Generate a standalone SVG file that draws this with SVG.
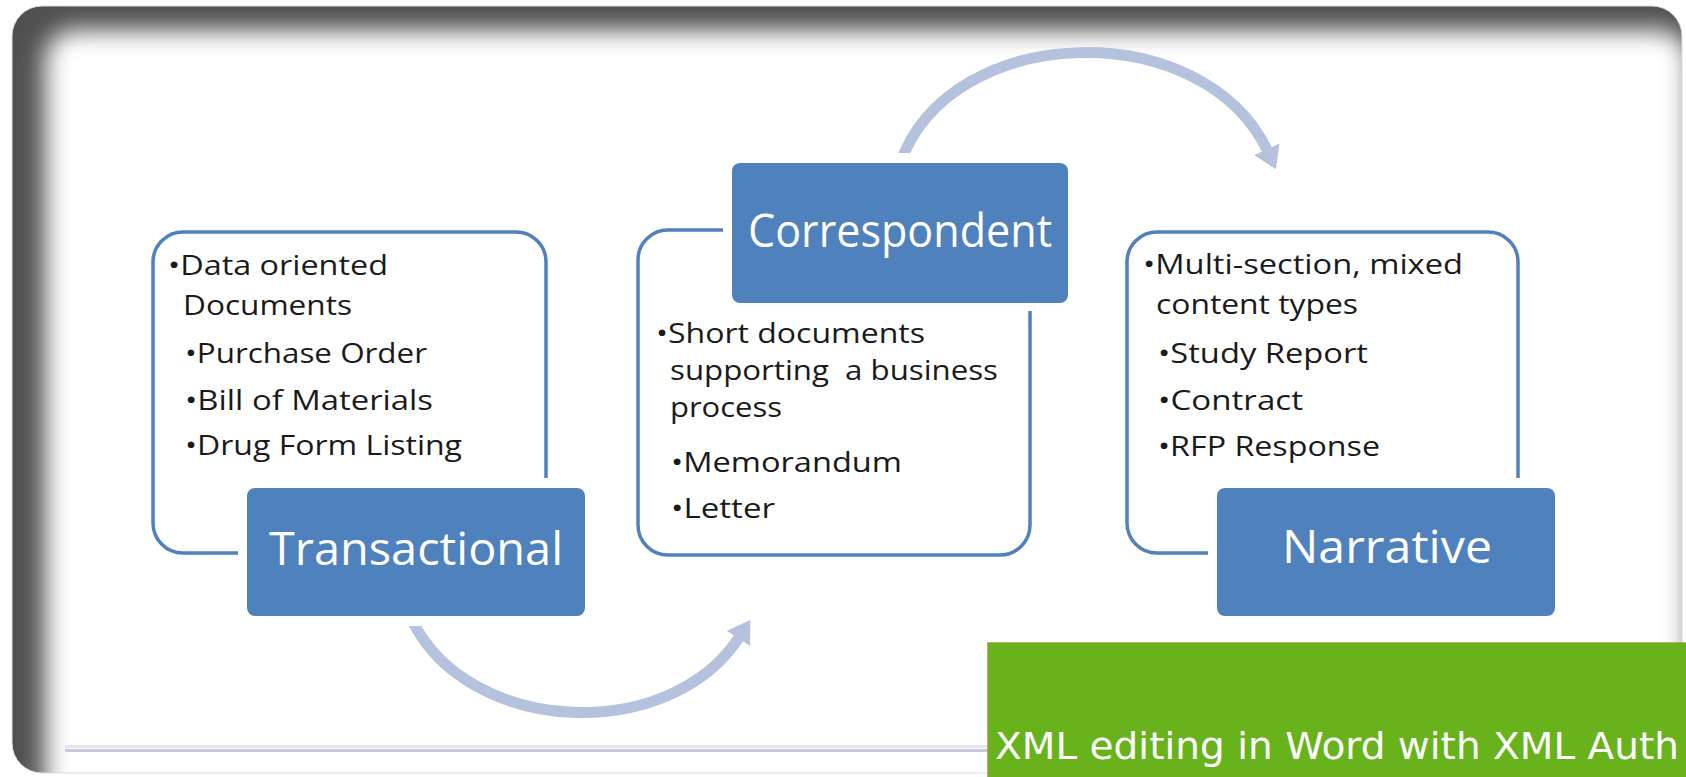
<svg xmlns="http://www.w3.org/2000/svg" width="1686" height="777" viewBox="0 0 1686 777">
  <style>
    .box { fill: #ffffff; stroke: #4f81bd; stroke-width: 3.5; }
    .gap { fill: #ffffff; }
    .label { fill: #4f81bd; }
    .lbl { font-family: "Open Sans", "Noto Sans", sans-serif; font-size: 46px; fill: #ffffff; text-anchor: middle; }
    .body { font-family: "Open Sans", "Noto Sans", sans-serif; font-size: 28px; font-weight: 500; fill: #1a1a1a; }
    .arc { fill: none; stroke: #b5c2dd; stroke-width: 11; }
    .banner { font-family: "DejaVu Sans", sans-serif; font-size: 38px; fill: #ffffff; }
  </style>
  <defs>
    <clipPath id="frameClip">
      <rect x="12" y="6" width="1670" height="767" rx="30"/>
    </clipPath>
    <filter id="soft" x="-10%" y="-10%" width="120%" height="120%">
      <feGaussianBlur stdDeviation="12"/>
    </filter>
    <marker id="head" markerUnits="userSpaceOnUse" viewBox="0 0 22 28" refX="3" refY="14" markerWidth="22" markerHeight="28" orient="auto">
      <path d="M0,0 L22,14 L0,28 Z" fill="#b5c2dd"/>
    </marker>
  </defs>

  <rect x="0" y="0" width="1686" height="777" fill="#ffffff"/>

  <!-- slide frame -->
  <g id="frame">
    <g clip-path="url(#frameClip)">
      <rect x="12" y="6" width="1670" height="767" fill="#505050"/>
      <rect x="45" y="30" width="1644" height="800" rx="30" fill="#ffffff" filter="url(#soft)"/>
    </g>
    <rect x="12" y="6" width="1670" height="767" rx="30" fill="none" stroke="#dcdcdc" stroke-width="1"/>
    <rect x="65" y="745" width="930" height="3" fill="#e3e4ef"/>
    <rect x="65" y="749" width="930" height="3" fill="#c6c8db"/>
  </g>

  <!-- connectors -->
  <g id="connectors">
    <path class="arc" d="M 900 164 C 950 20, 1205 15, 1268 152" marker-end="url(#head)"/>
    <path class="arc" d="M 413 622 C 470 735, 670 745, 740 636" marker-end="url(#head)"/>
  </g>

  <!-- Transactional -->
  <g id="transactional">
    <rect class="box" x="153" y="232" width="393" height="321" rx="30"/>
    <rect class="gap" x="238" y="478" width="356" height="148" rx="10"/>
    <rect class="label" x="247" y="488" width="338" height="128" rx="8"/>
    <text class="lbl" x="416" y="565" textLength="294" lengthAdjust="spacingAndGlyphs">Transactional</text>
    <text class="body" x="168" y="275" textLength="220" lengthAdjust="spacingAndGlyphs">•Data oriented</text>
    <text class="body" x="183" y="315" textLength="169" lengthAdjust="spacingAndGlyphs">Documents</text>
    <text class="body" x="185" y="363" textLength="242" lengthAdjust="spacingAndGlyphs">•Purchase Order</text>
    <text class="body" x="185" y="410" textLength="248" lengthAdjust="spacingAndGlyphs">•Bill of Materials</text>
    <text class="body" x="185" y="455" textLength="277" lengthAdjust="spacingAndGlyphs">•Drug Form Listing</text>
  </g>

  <!-- Correspondent -->
  <g id="correspondent">
    <rect class="box" x="638" y="230" width="392" height="325" rx="30"/>
    <rect class="gap" x="723" y="153" width="356" height="158" rx="10"/>
    <rect class="label" x="732" y="163" width="336" height="140" rx="8"/>
    <text class="lbl" x="900" y="247" textLength="304" lengthAdjust="spacingAndGlyphs">Correspondent</text>
    <text class="body" x="656" y="343" textLength="269" lengthAdjust="spacingAndGlyphs">•Short documents</text>
    <text class="body" x="670" y="380" textLength="328" lengthAdjust="spacingAndGlyphs" xml:space="preserve">supporting  a business</text>
    <text class="body" x="670" y="417" textLength="112" lengthAdjust="spacingAndGlyphs">process</text>
    <text class="body" x="671" y="472" textLength="231" lengthAdjust="spacingAndGlyphs">•Memorandum</text>
    <text class="body" x="671" y="518" textLength="104" lengthAdjust="spacingAndGlyphs">•Letter</text>
  </g>

  <!-- Narrative -->
  <g id="narrative">
    <rect class="box" x="1127" y="232" width="391" height="321" rx="30"/>
    <rect class="gap" x="1208" y="478" width="356" height="148" rx="10"/>
    <rect class="label" x="1217" y="488" width="338" height="128" rx="8"/>
    <text class="lbl" x="1387" y="563" textLength="210" lengthAdjust="spacingAndGlyphs">Narrative</text>
    <text class="body" x="1143" y="274" textLength="320" lengthAdjust="spacingAndGlyphs">•Multi-section, mixed</text>
    <text class="body" x="1156" y="314" textLength="202" lengthAdjust="spacingAndGlyphs">content types</text>
    <text class="body" x="1158" y="363" textLength="210" lengthAdjust="spacingAndGlyphs">•Study Report</text>
    <text class="body" x="1158" y="410" textLength="145" lengthAdjust="spacingAndGlyphs">•Contract</text>
    <text class="body" x="1158" y="456" textLength="222" lengthAdjust="spacingAndGlyphs">•RFP Response</text>
  </g>

  <!-- banner -->
  <g id="banner">
    <rect x="988" y="643" width="700" height="136" fill="#68b21b" stroke="#93a02c" stroke-width="1.5"/>
    <text class="banner" x="995" y="759" textLength="684" lengthAdjust="spacingAndGlyphs">XML editing in Word with XML Auth</text>
  </g>
</svg>
